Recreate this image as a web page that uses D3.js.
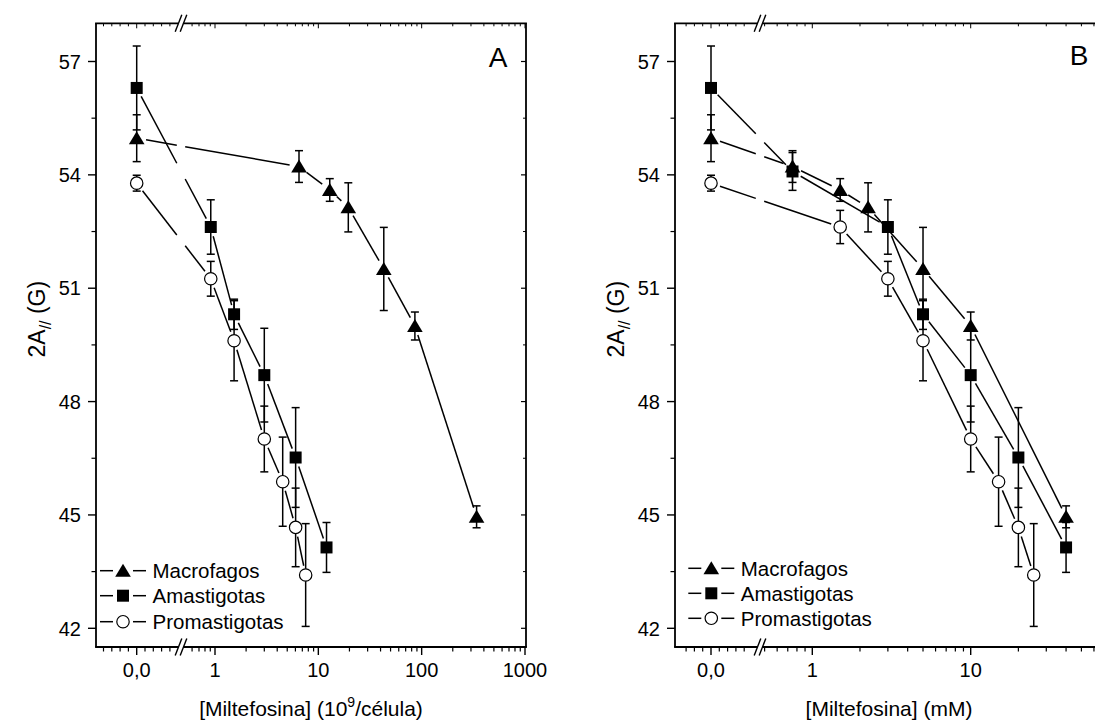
<!DOCTYPE html>
<html><head><meta charset="utf-8">
<script src="https://cdn.jsdelivr.net/npm/d3@7"></script>
<style>body{margin:0;background:#fff;overflow:hidden} svg{display:block} text{font-family:"Liberation Sans",Arial,sans-serif;fill:#000}</style>
</head><body><svg id="c" width="1095" height="724"></svg>
<script>
// ---------------- DATA ----------------
const seriesNames = ["Macrofagos", "Amastigotas", "Promastigotas"];
const yTickValues = [42, 45, 48, 51, 54, 57];
const yMinorValues = [43.5, 46.5, 49.5, 52.5, 55.5];

// Panel A  (x: [Miltefosina] (10^9/célula))
const aMacX = [0, 6.5, 12.9, 19.5, 43, 86, 340];
const aMacY = [54.97, 54.22, 53.60, 53.14, 51.51, 50.00, 44.95];
const aMacE = [0.62, 0.42, 0.30, 0.65, 1.10, 0.37, 0.29];
const aAmaX = [0, 0.91, 1.53, 3.0, 6.03, 12.0];
const aAmaY = [56.30, 52.62, 50.31, 48.70, 46.52, 44.14];
const aAmaE = [1.11, 0.72, 0.40, 1.24, 1.32, 0.66];
const aProX = [0, 0.91, 1.53, 3.0, 4.52, 6.03, 7.54];
const aProY = [53.78, 51.25, 49.61, 47.01, 45.88, 44.67, 43.41];
const aProE = [0.21, 0.46, 1.06, 0.87, 1.18, 1.04, 1.36];

// Panel B  (x: [Miltefosina] (mM))
const bMacX = [0, 0.75, 1.5, 2.25, 5, 10, 40];
const bMacY = [54.97, 54.22, 53.60, 53.14, 51.51, 50.00, 44.95];
const bMacE = [0.62, 0.42, 0.30, 0.65, 1.10, 0.37, 0.29];
const bAmaX = [0, 0.75, 3, 5, 10, 20, 40];
const bAmaY = [56.30, 54.09, 52.62, 50.31, 48.70, 46.52, 44.14];
const bAmaE = [1.11, 0.50, 0.72, 0.40, 1.24, 1.32, 0.66];
const bProX = [0, 1.5, 3, 5, 10, 15, 20, 25];
const bProY = [53.78, 52.62, 51.25, 49.61, 47.01, 45.88, 44.67, 43.41];
const bProE = [0.21, 0.44, 0.46, 1.06, 0.87, 1.18, 1.04, 1.36];

const aLogTicks = [1, 10, 100, 1000];
const aLogTickLabels = ["1", "10", "100", "1000"];
const bLogTicks = [1, 10];
const bLogTickLabels = ["1", "10"];
const zeroTickLabel = "0,0";

// ---------------- LAYOUT ----------------
const svg = d3.select("#c");

const panels = [
  { id: "A", left: 96, right: 526, top: 23.3, bottom: 647,
    zeroPx: 136.7, linStep: 8.3, breakPx: 181, logRange: [215, 525], logDomain: [1, 1000],
    logTicks: aLogTicks, logTickLabels: aLogTickLabels, linMinor: [-4,-3,-2,-1,1,2,3,4],
    series: [[aMacX, aMacY, aMacE], [aAmaX, aAmaY, aAmaE], [aProX, aProY, aProE]],
    yLabelX: 37, legendX: 100, legendY: [570.7, 595.7, 621.7], tag: "A", tagX: 498, tagY: 67,
    titleMain: "[Miltefosina] (10", titleSup: "9", titleEnd: "/célula)" },
  { id: "B", left: 675, right: 1103, top: 23.3, bottom: 647,
    zeroPx: 711, linStep: 8.3, breakPx: 760, logRange: [812.3, 970.7], logDomain: [1, 10],
    logTicks: bLogTicks, logTickLabels: bLogTickLabels, linMinor: [-4,-3,-2,-1,1,2,3,4],
    series: [[bMacX, bMacY, bMacE], [bAmaX, bAmaY, bAmaE], [bProX, bProY, bProE]],
    yLabelX: 616, legendX: 688.3, legendY: [568.3, 593.3, 618.3], tag: "B", tagX: 1079, tagY: 65,
    titleMain: "[Miltefosina] (mM)", titleSup: null, titleEnd: null }
];

const AX_W = 1.8, LINE_W = 1.5;

function markerPath(kind) {
  if (kind === 0) return "M0,-7L7.8,6L-7.8,6Z";
  if (kind === 1) return "M-6,-6H6V6H-6Z";
  return null;
}
function drawMarker(g, kind, x, y) {
  if (kind === 2) {
    g.append("circle").attr("cx", x).attr("cy", y).attr("r", 6.2)
      .attr("fill", "#fff").attr("stroke", "#000").attr("stroke-width", 1.2);
  } else {
    g.append("path").attr("d", markerPath(kind)).attr("transform", `translate(${x},${y})`)
      .attr("fill", "#000");
  }
}

panels.forEach(p => {
  const g = svg.append("g");
  const y = d3.scaleLinear().domain([57, 42]).range([61.5, 628.3]);
  const xLin = d3.scaleLinear().domain([0, 1]).range([p.zeroPx, p.zeroPx + p.linStep]);
  const xLog = d3.scaleLog().domain(p.logDomain).range(p.logRange);
  const xPos = v => v === 0 ? xLin(0) : xLog(v);
  const b0 = p.breakPx - 2.5, b1 = p.breakPx + 2.5;

  g.append("line").attr("x1", p.left).attr("x2", p.left).attr("y1", p.top).attr("y2", p.bottom)
    .attr("stroke", "#000").attr("stroke-width", AX_W);
  g.append("line").attr("x1", p.right).attr("x2", p.right).attr("y1", p.top).attr("y2", p.bottom)
    .attr("stroke", "#000").attr("stroke-width", AX_W);
  [p.bottom, p.top].forEach(yy => {
    g.append("line").attr("x1", p.left - AX_W/2).attr("x2", b0).attr("y1", yy).attr("y2", yy)
      .attr("stroke", "#000").attr("stroke-width", AX_W);
    g.append("line").attr("x1", b1).attr("x2", p.right + AX_W/2).attr("y1", yy).attr("y2", yy)
      .attr("stroke", "#000").attr("stroke-width", AX_W);
    [b0, b1].forEach(bx => {
      g.append("line").attr("x1", bx - 3.3).attr("y1", yy + 8.5).attr("x2", bx + 3.3).attr("y2", yy - 8.5)
        .attr("stroke", "#000").attr("stroke-width", 1.4);
    });
  });

  yTickValues.forEach(v => {
    g.append("line").attr("x1", p.left - 8).attr("x2", p.left).attr("y1", y(v)).attr("y2", y(v))
      .attr("stroke", "#000").attr("stroke-width", 1.4);
    g.append("line").attr("x1", p.right - 5).attr("x2", p.right).attr("y1", y(v)).attr("y2", y(v))
      .attr("stroke", "#000").attr("stroke-width", 1.2);
    g.append("text").attr("x", p.left - 15).attr("y", y(v)).attr("dy", "0.36em")
      .attr("text-anchor", "end").style("font-size", "20px").text(d3.format("d")(v));
  });
  yMinorValues.forEach(v => {
    g.append("line").attr("x1", p.left - 4.5).attr("x2", p.left).attr("y1", y(v)).attr("y2", y(v))
      .attr("stroke", "#000").attr("stroke-width", 1.2);
    g.append("line").attr("x1", p.right - 3).attr("x2", p.right).attr("y1", y(v)).attr("y2", y(v))
      .attr("stroke", "#000").attr("stroke-width", 1);
  });

  const xt = (px, len, major) => {
    g.append("line").attr("x1", px).attr("x2", px).attr("y1", p.bottom).attr("y2", p.bottom + len)
      .attr("stroke", "#000").attr("stroke-width", major ? 1.4 : 1.2);
    g.append("line").attr("x1", px).attr("x2", px).attr("y1", p.top).attr("y2", p.top + (major ? 5 : 3))
      .attr("stroke", "#000").attr("stroke-width", 1);
  };
  xt(xLin(0), 8, true);
  g.append("text").attr("x", xLin(0)).attr("y", p.bottom + 30).attr("text-anchor", "middle")
    .style("font-size", "20px").text(zeroTickLabel);
  p.linMinor.forEach(k => {
    const px = xLin(k);
    if (px > p.left + 3 && px < b0 - 2) xt(px, 4.5, false);
  });
  p.logTicks.forEach((v, i) => {
    xt(xLog(v), 8, true);
    g.append("text").attr("x", xLog(v)).attr("y", p.bottom + 30).attr("text-anchor", "middle")
      .style("font-size", "20px").text(p.logTickLabels[i]);
  });
  [0.1, 1, 10, 100].forEach(d => {
    for (let m = 2; m <= 9; m++) {
      const px = xLog(d * m);
      if (px > b1 + 2 && px < p.right - 1.5) xt(px, 4.5, false);
    }
  });

  const gapM = 9.5;
  const lineG = g.append("g"), errG = g.append("g"), markG = g.append("g");
  p.series.forEach((s, k) => {
    const [xs, ys, es] = s;
    const pts = xs.map((xv, i) => [xPos(xv), y(ys[i])]);
    for (let i = 0; i < pts.length - 1; i++) {
      const [x1, y1] = pts[i], [x2, y2] = pts[i + 1];
      const dx = x2 - x1, dy = y2 - y1, L = Math.hypot(dx, dy);
      if (L <= 2 * gapM) continue;
      const ux = dx / L, uy = dy / L;
      const sx = x1 + ux * gapM, sy = y1 + uy * gapM, ex = x2 - ux * gapM, ey = y2 - uy * gapM;
      const bl = p.breakPx - 4.2, br = p.breakPx + 4.2;
      if (sx < bl && ex > br) {
        const t0 = (bl - sx) / (ex - sx), t1 = (br - sx) / (ex - sx);
        lineG.append("line").attr("x1", sx).attr("y1", sy).attr("x2", bl).attr("y2", sy + (ey - sy) * t0)
          .attr("stroke", "#000").attr("stroke-width", LINE_W);
        lineG.append("line").attr("x1", br).attr("y1", sy + (ey - sy) * t1).attr("x2", ex).attr("y2", ey)
          .attr("stroke", "#000").attr("stroke-width", LINE_W);
      } else {
        lineG.append("line").attr("x1", sx).attr("y1", sy).attr("x2", ex).attr("y2", ey)
          .attr("stroke", "#000").attr("stroke-width", LINE_W);
      }
    }
    xs.forEach((xv, i) => {
      const px = xPos(xv), yt = y(ys[i] + es[i]), yb = y(ys[i] - es[i]);
      errG.append("line").attr("x1", px).attr("x2", px).attr("y1", yt).attr("y2", yb)
        .attr("stroke", "#000").attr("stroke-width", 1.5);
      [yt, yb].forEach(cy => errG.append("line").attr("x1", px - 4).attr("x2", px + 4)
        .attr("y1", cy).attr("y2", cy).attr("stroke", "#000").attr("stroke-width", 1.5));
      drawMarker(markG, k, px, y(ys[i]));
    });
  });

  seriesNames.forEach((name, k) => {
    const ly = p.legendY[k], lx = p.legendX, cx = lx + 23;
    g.append("line").attr("x1", lx).attr("x2", cx - 10).attr("y1", ly).attr("y2", ly)
      .attr("stroke", "#000").attr("stroke-width", LINE_W);
    g.append("line").attr("x1", cx + 10).attr("x2", lx + 46).attr("y1", ly).attr("y2", ly)
      .attr("stroke", "#000").attr("stroke-width", LINE_W);
    drawMarker(g, k, cx, ly);
    g.append("text").attr("x", lx + 52.5).attr("y", ly).attr("dy", "0.36em")
      .style("font-size", "20.5px").text(name);
  });

  g.append("text").attr("x", p.tagX).attr("y", p.tagY).attr("text-anchor", "middle")
    .style("font-size", "28px").text(p.tag);

  const cxT = (p.left + p.right) / 2;
  const tt = g.append("text").attr("x", cxT).attr("y", 716).attr("text-anchor", "middle")
    .style("font-size", "21px");
  tt.append("tspan").text(p.titleMain);
  if (p.titleSup) {
    tt.append("tspan").attr("dy", -9).style("font-size", "14px").text(p.titleSup);
    tt.append("tspan").attr("dy", 9).text(p.titleEnd);
  }

  const yt = g.append("text").attr("transform", `translate(${p.yLabelX},${(p.top + p.bottom) / 2 - 16}) rotate(-90)`)
    .attr("text-anchor", "middle").attr("dy", "0.36em").style("font-size", "23px");
  yt.append("tspan").text("2A");
  yt.append("tspan").attr("dy", 6).style("font-size", "16px").text("//");
  yt.append("tspan").attr("dy", -6).text(" (G)");
});
</script></body></html>
